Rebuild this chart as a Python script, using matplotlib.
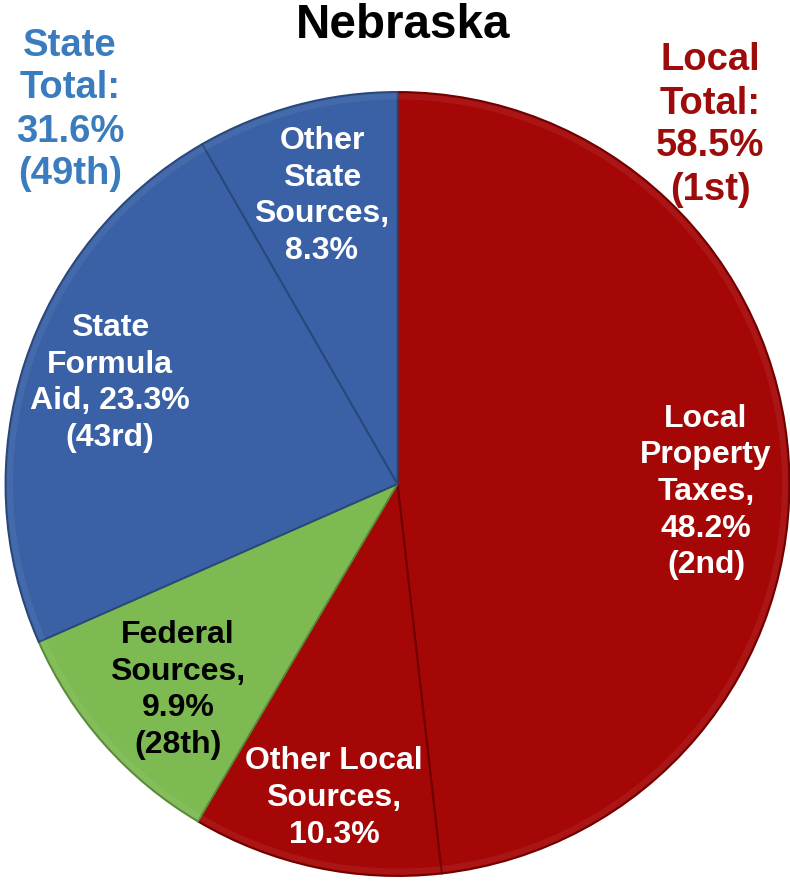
import matplotlib
matplotlib.use("Agg")
import matplotlib.pyplot as plt
from matplotlib.patches import Wedge

# slices, clockwise from 12 o'clock
slice_names = ["Local\nProperty\nTaxes", "Other Local\nSources", "Federal\nSources",
               "State\nFormula\nAid", "Other\nState\nSources"]
slice_values = [48.2, 10.3, 9.9, 23.3, 8.3]
slice_seps = ["\n", "\n", "\n", " ", "\n"]
slice_ranks = ["2nd", None, "28th", "43rd", None]
slice_colors = ["#A50707", "#A50707", "#7DBA52", "#3A61A6", "#3A61A6"]
slice_edges = ["#6E0000", "#6E0000", "#5A8A38", "#2A477A", "#2A477A"]
label_colors = ["white", "white", "black", "white", "white"]
label_pos = [(706, 492), (334, 798), (178, 690), (110, 383), (322, 196)]

group_names = ["State\nTotal:", "Local\nTotal:"]
group_values = [31.6, 58.5]
group_ranks = ["49th", "1st"]
group_colors = ["#3A7CBD", "#9E0B0B"]
group_pos = [(70, 110), (710, 125)]

W, H = 790, 881
CX, CY, R = 397.5, 484, 392

fig = plt.figure(figsize=(W / 100, H / 100), dpi=100)
ax = fig.add_axes([0, 0, 1, 1])

wedges, _ = ax.pie(slice_values, colors=slice_colors, startangle=90,
                   counterclock=False, center=(CX, H - CY), radius=R,
                   frame=True,
                   wedgeprops=dict(linewidth=1.4))
for w, ec in zip(wedges, slice_edges):
    w.set_edgecolor(ec)
    # soft bevel highlight along the rim
    ax.add_patch(Wedge(w.center, w.r - 1.5, w.theta1, w.theta2, width=6,
                       facecolor="white", alpha=0.06, linewidth=0))

ax.set_xlim(0, W)
ax.set_ylim(0, H)
ax.set_aspect("equal")
ax.axis("off")

fam = ["Liberation Sans", "DejaVu Sans"]
for name, val, sep, rank, col, (x, y) in zip(slice_names, slice_values, slice_seps,
                                             slice_ranks, label_colors, label_pos):
    txt = f"{name},{sep}{val:.1f}%"
    if rank:
        txt += f"\n({rank})"
    ax.text(x, H - y, txt, ha="center", va="center", color=col, fontsize=23,
            fontweight="bold", family=fam, linespacing=1.29)

for name, val, rank, col, (x, y) in zip(group_names, group_values, group_ranks,
                                        group_colors, group_pos):
    ax.text(x, H - y, f"{name}\n{val:.1f}%\n({rank})", ha="center", va="center",
            color=col, fontsize=27.5, fontweight="bold", family=fam, linespacing=1.25)

ax.text(403, H - 25, "Nebraska", ha="center", va="center", fontsize=34.3,
        fontweight="bold", family=fam, color="black")

fig.savefig("out.png", dpi=100, facecolor="white")
